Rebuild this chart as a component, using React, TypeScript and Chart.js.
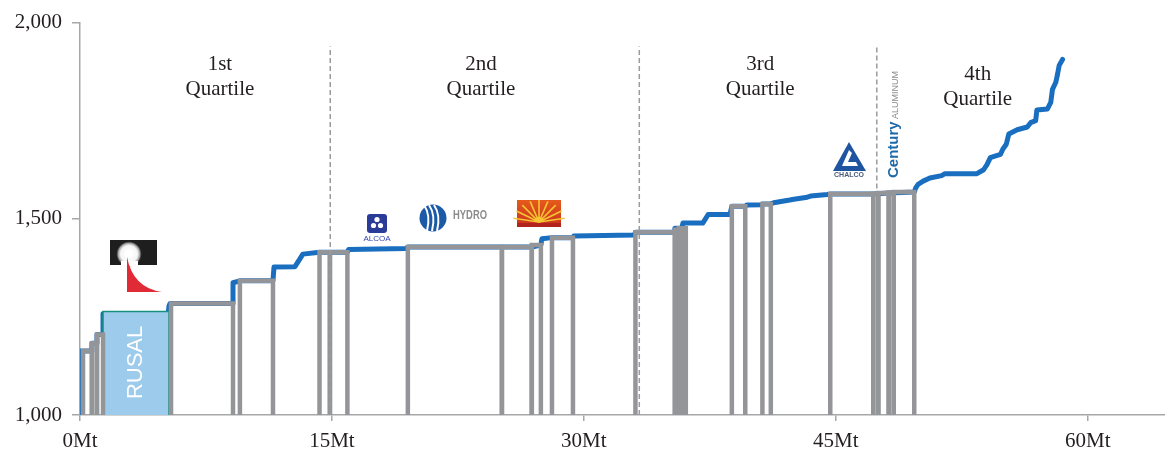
import React, { useEffect, useRef } from "react";
import { Chart, registerables } from "chart.js";

Chart.register(...registerables);

const FONT_SERIF = '"Liberation Serif", "Times New Roman", serif';
const FONT_SANS = '"Liberation Sans", Arial, sans-serif';

// Axis ticks
const xTicks = [0, 15, 30, 45, 60];
const yTicks = [1000, 1500, 2000];

// Industry cost curve (cumulative capacity in Mt, cost)
const curveMt = [
  0, 0, 0.71, 0.71, 1.01, 1.01, 1.37, 1.37, 5.25, 5.3, 5.36, 9.11, 9.11, 9.52, 11.49, 11.55,
  12.8, 13.27, 14.26, 15.92, 16.0, 19.4, 19.52, 25.12, 26.9, 27.44, 27.5, 28.1, 29.35, 29.4,
  33.0, 33.07, 35.42, 35.42, 35.83, 35.9, 37.08, 37.4, 38.7, 38.81, 39.61, 39.7, 40.6, 40.63,
  41.13, 41.3, 42.26, 42.5, 43.3, 43.5, 44.5, 44.67, 47.23, 48.15, 49.67, 49.75, 49.9, 50.2,
  50.6, 51.3, 51.5, 53.4, 53.8, 54.0, 54.2, 54.8, 54.95, 55.15, 55.3, 55.8, 56.4, 56.6, 56.9,
  56.97, 57.6, 57.8, 57.9, 58.1, 58.2, 58.3, 58.5,
];
const curveCost = [
  1000, 1163, 1163, 1183, 1183, 1205, 1205, 1258, 1258, 1278, 1284, 1284, 1337, 1342, 1342, 1377,
  1378, 1410, 1415, 1415, 1422, 1424, 1428, 1428, 1428, 1433, 1449, 1452, 1452, 1456,
  1459, 1466, 1466, 1476, 1476, 1489, 1489, 1511, 1511, 1532, 1532, 1535, 1536, 1538,
  1538, 1541, 1548, 1550, 1555, 1558, 1562, 1563, 1563, 1566, 1568, 1578, 1588, 1596,
  1604, 1610, 1615, 1615, 1625, 1638, 1656, 1664, 1678, 1690, 1716, 1727, 1734, 1745, 1750,
  1777, 1780, 1797, 1830, 1848, 1868, 1891, 1906,
];

// Highlighted producers (grey outlined boxes)
const boxFrom = [0.18, 0.71, 1.01, 5.42, 9.52, 14.26, 14.88, 19.52, 25.12, 26.9, 28.1, 33.07, 35.42, 35.65, 35.9, 38.81, 40.63, 44.67, 47.23, 47.53, 48.15, 48.45];
const boxTo = [0.71, 1.01, 1.37, 9.11, 11.49, 14.88, 15.92, 25.12, 26.9, 27.44, 29.35, 35.42, 35.65, 35.9, 36.07, 39.61, 41.13, 47.23, 47.53, 48.15, 48.45, 49.67];
const boxCost = [1163, 1183, 1205, 1284, 1342, 1415, 1415, 1428, 1428, 1433, 1452, 1466, 1472, 1476, 1476, 1532, 1538, 1563, 1564, 1566, 1567, 1568];

// RUSAL
const rusalFrom = 1.37;
const rusalTo = 5.3;
const rusalCost = 1264;

// Quartiles
const quartileBounds = [14.9, 33.3, 47.44];
const quartileBoundLow = [1000, 1000, 1577];
const quartileBoundHigh = 1939;
const quartileLabels = [
  ["1st", "Quartile"],
  ["2nd", "Quartile"],
  ["3rd", "Quartile"],
  ["4th", "Quartile"],
];
const quartileLabelX = [8.33, 23.87, 40.5, 53.45];
const quartileLabelY = [1893, 1893, 1893, 1868];

function drawLogos(ctx: CanvasRenderingContext2D) {
  // RUSAL logo
  ctx.save();
  ctx.fillStyle = "#1e1e1e";
  ctx.fillRect(110, 240, 47, 25);
  const g = ctx.createRadialGradient(129, 254, 3, 129, 254, 13);
  g.addColorStop(0, "#ffffff");
  g.addColorStop(0.55, "#f4f4f4");
  g.addColorStop(0.8, "#9a9a9a");
  g.addColorStop(1, "rgba(40,40,40,0)");
  ctx.fillStyle = g;
  ctx.beginPath();
  ctx.arc(129, 254, 13, 0, Math.PI * 2);
  ctx.fill();
  ctx.fillStyle = "#ffffff";
  ctx.fillRect(121, 261, 17, 5);
  ctx.fillStyle = "#e02a35";
  ctx.beginPath();
  ctx.moveTo(127, 257);
  ctx.lineTo(127, 292);
  ctx.lineTo(162, 292);
  ctx.quadraticCurveTo(133, 288, 127, 257);
  ctx.closePath();
  ctx.fill();
  ctx.restore();

  // ALCOA logo
  ctx.save();
  ctx.fillStyle = "#2a3c97";
  ctx.beginPath();
  (ctx as any).roundRect ? (ctx as any).roundRect(367, 214, 20, 19, 3) : ctx.rect(367, 214, 20, 19);
  ctx.fill();
  ctx.fillStyle = "#ffffff";
  ctx.beginPath(); ctx.arc(377, 219.5, 2.6, 0, Math.PI * 2); ctx.fill();
  ctx.beginPath(); ctx.arc(373.5, 225.5, 2.6, 0, Math.PI * 2); ctx.fill();
  ctx.beginPath(); ctx.arc(380.5, 225.5, 2.6, 0, Math.PI * 2); ctx.fill();
  ctx.fillStyle = "#3347b0";
  ctx.font = `8px ${FONT_SANS}`;
  ctx.textAlign = "center";
  ctx.textBaseline = "middle";
  ctx.fillText("ALCOA", 377, 238.5, 28);
  ctx.restore();

  // HYDRO logo
  ctx.save();
  ctx.fillStyle = "#1c5aa8";
  ctx.beginPath();
  ctx.arc(433, 218, 13.5, 0, Math.PI * 2);
  ctx.fill();
  ctx.strokeStyle = "#ffffff";
  ctx.lineWidth = 2;
  [-6, -1, 4].forEach((d) => {
    ctx.beginPath();
    ctx.moveTo(433 + d - 3, 205);
    ctx.quadraticCurveTo(433 + d + 4, 215, 433 + d, 231);
    ctx.stroke();
  });
  ctx.fillStyle = "#8c8c8c";
  ctx.font = `bold 12px ${FONT_SANS}`;
  ctx.textAlign = "left";
  ctx.textBaseline = "middle";
  ctx.fillText("HYDRO", 453, 215.5, 34);
  ctx.restore();

  // Hindalco-style logo
  ctx.save();
  const hg = ctx.createLinearGradient(0, 200, 0, 227);
  hg.addColorStop(0, "#e55a1c");
  hg.addColorStop(1, "#c8321c");
  ctx.fillStyle = hg;
  ctx.fillRect(517, 200, 44, 27);
  ctx.strokeStyle = "#f7c533";
  ctx.lineWidth = 1.6;
  for (let k = 0; k < 9; k++) {
    const a = Math.PI + (k + 0.5) * (Math.PI / 9);
    ctx.beginPath();
    ctx.moveTo(539, 222);
    ctx.lineTo(539 + Math.cos(a) * 26, 222 + Math.sin(a) * 22);
    ctx.stroke();
  }
  ctx.fillStyle = "#f7c533";
  ctx.beginPath();
  ctx.arc(539, 222, 5, Math.PI, 0);
  ctx.fill();
  ctx.fillStyle = "#b3231d";
  ctx.fillRect(517, 223, 44, 4);
  ctx.restore();

  // CHALCO logo
  ctx.save();
  ctx.fillStyle = "#1f55a0";
  ctx.beginPath();
  ctx.moveTo(849, 142);
  ctx.lineTo(866, 171);
  ctx.lineTo(833, 171);
  ctx.closePath();
  ctx.fill();
  ctx.fillStyle = "#ffffff";
  ctx.beginPath();
  ctx.moveTo(849, 150);
  ctx.lineTo(842, 166);
  ctx.lineTo(858, 166);
  ctx.lineTo(856, 162);
  ctx.lineTo(848, 162);
  ctx.lineTo(852, 153);
  ctx.closePath();
  ctx.fill();
  ctx.fillStyle = "#4d5c7a";
  ctx.font = `bold 7px ${FONT_SANS}`;
  ctx.textAlign = "center";
  ctx.textBaseline = "middle";
  ctx.fillText("CHALCO", 849, 175.5, 34);
  ctx.restore();

  // Century Aluminum logo (vertical)
  ctx.save();
  ctx.translate(898, 178);
  ctx.rotate(-Math.PI / 2);
  ctx.textAlign = "left";
  ctx.textBaseline = "alphabetic";
  ctx.fillStyle = "#1d6aaa";
  ctx.font = `bold 15px ${FONT_SANS}`;
  ctx.fillText("Century", 0, 0, 58);
  ctx.fillStyle = "#8a8a8a";
  ctx.font = `9px ${FONT_SANS}`;
  ctx.fillText("ALUMINUM", 59, 0, 51);
  ctx.restore();
}

const annotPlugin = {
  id: "annot",
  afterDatasetsDraw(chart: any) {
    const ctx: CanvasRenderingContext2D = chart.ctx;
    const xs = chart.scales.x;
    const ys = chart.scales.y;
    ctx.save();
    ctx.font = `21px ${FONT_SERIF}`;
    ctx.fillStyle = "#231f20";
    ctx.textAlign = "center";
    ctx.textBaseline = "middle";
    quartileLabels.forEach((lines, i) => {
      const px = xs.getPixelForValue(quartileLabelX[i]);
      const py = ys.getPixelForValue(quartileLabelY[i]);
      lines.forEach((t, j) => ctx.fillText(t, px, py + j * 25));
    });

    // RUSAL label
    ctx.save();
    ctx.translate(xs.getPixelForValue((rusalFrom + rusalTo) / 2), ys.getPixelForValue(1134));
    ctx.rotate(-Math.PI / 2);
    ctx.fillStyle = "#ffffff";
    ctx.font = `22px ${FONT_SANS}`;
    ctx.textAlign = "center";
    ctx.textBaseline = "middle";
    ctx.fillText("RUSAL", 0, 0);
    ctx.restore();

    drawLogos(ctx);
    ctx.restore();
  },
};

export default function App() {
  const ref = useRef<HTMLCanvasElement>(null);

  useEffect(() => {
    if (!ref.current) return;

    const datasets: any[] = [];

    datasets.push({
      label: "Cost curve",
      data: curveMt.map((x, i) => ({ x, y: curveCost[i] })),
      borderColor: "#1a6ec0",
      borderWidth: 5,
      pointRadius: 0,
      fill: false,
      tension: 0,
      borderJoinStyle: "round",
      borderCapStyle: "round",
      order: 10,
    });

    boxFrom.forEach((f, i) => {
      datasets.push({
        label: "box" + i,
        data: [
          { x: f, y: 1000 },
          { x: f, y: boxCost[i] },
          { x: boxTo[i], y: boxCost[i] },
          { x: boxTo[i], y: 1000 },
        ],
        borderColor: "#949598",
        borderWidth: 4.5,
        pointRadius: 0,
        fill: false,
        tension: 0,
        borderJoinStyle: "miter",
        order: 5,
      });
    });

    datasets.push({
      label: "RUSAL",
      data: [
        { x: rusalFrom, y: 1000 },
        { x: rusalFrom, y: rusalCost },
        { x: rusalTo, y: rusalCost },
        { x: rusalTo, y: 1000 },
      ],
      borderColor: "#16907e",
      backgroundColor: "#9dcbec",
      borderWidth: 1.5,
      pointRadius: 0,
      fill: "start",
      tension: 0,
      order: 6,
    });

    quartileBounds.forEach((q, i) => {
      datasets.push({
        label: "q" + i,
        data: [
          { x: q, y: quartileBoundLow[i] },
          { x: q, y: quartileBoundHigh },
        ],
        borderColor: "#9b9b9b",
        borderWidth: 1.5,
        borderDash: [5, 3],
        pointRadius: 0,
        fill: false,
        order: 1,
      });
    });

    const axisColor = "#a7a7a7";

    const chart = new Chart(ref.current, {
      type: "line",
      data: { datasets },
      plugins: [annotPlugin],
      options: {
        animation: false,
        responsive: false,
        maintainAspectRatio: false,
        layout: { padding: { top: 20, right: 0, left: 0, bottom: 0 } },
        plugins: {
          legend: { display: false },
          tooltip: { enabled: false },
        },
        scales: {
          x: {
            type: "linear",
            min: 0,
            max: 64.6,
            afterBuildTicks: (s: any) => {
              s.ticks = xTicks.map((v) => ({ value: v }));
            },
            afterFit: (s: any) => {
              s.height = 35;
            },
            ticks: {
              callback: (v: any) => `${v}Mt`,
              font: { family: FONT_SERIF, size: 21 },
              color: "#231f20",
              padding: 8,
              maxRotation: 0,
              autoSkip: false,
            },
            grid: {
              display: true,
              drawOnChartArea: false,
              drawTicks: true,
              tickLength: 6,
              color: axisColor,
              lineWidth: 1.5,
            },
            border: { color: axisColor, width: 1.5 },
          },
          y: {
            type: "linear",
            min: 1000,
            max: 2000,
            afterBuildTicks: (s: any) => {
              s.ticks = yTicks.map((v) => ({ value: v }));
            },
            afterFit: (s: any) => {
              s.width = 80;
            },
            ticks: {
              callback: (v: any) => Number(v).toLocaleString("en-US"),
              font: { family: FONT_SERIF, size: 21 },
              color: "#231f20",
              padding: 10,
              autoSkip: false,
            },
            grid: {
              display: true,
              drawOnChartArea: false,
              drawTicks: true,
              tickLength: 8,
              color: axisColor,
              lineWidth: 1.5,
            },
            border: { color: axisColor, width: 1.5 },
          },
        },
      },
    });

    return () => chart.destroy();
  }, []);

  return (
    <div style={{ position: "fixed", left: 0, top: 0, width: 1165, height: 450, background: "#ffffff" }}>
      <canvas ref={ref} width={1165} height={450} style={{ display: "block", width: 1165, height: 450 }} />
    </div>
  );
}
